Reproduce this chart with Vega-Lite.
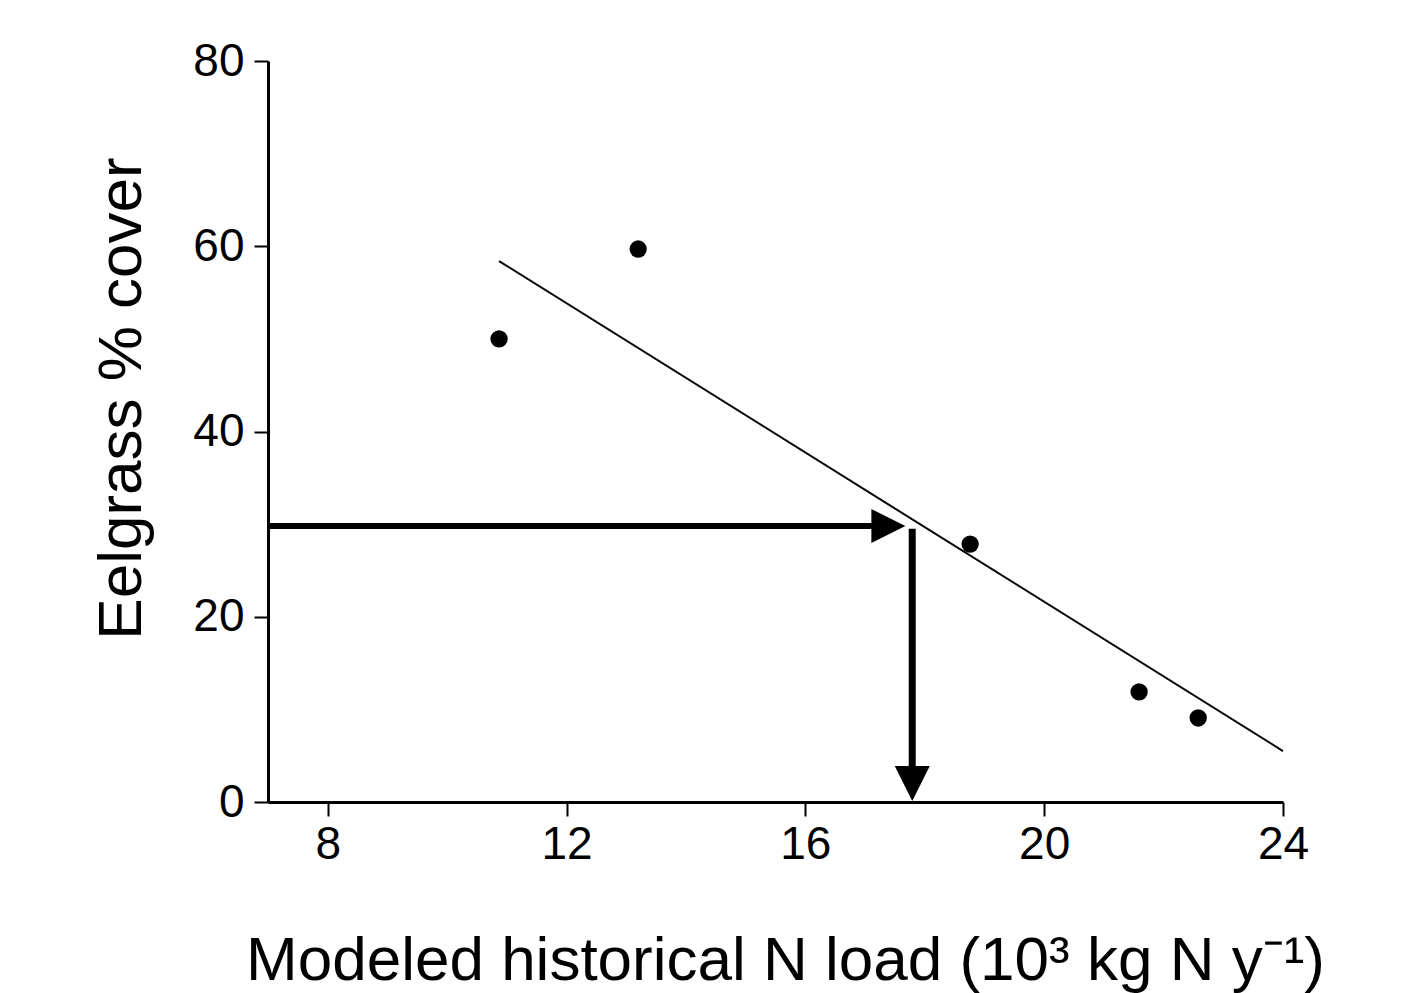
{
  "$schema": "https://vega.github.io/schema/vega-lite/v6.json",
  "autosize": "none",
  "width": 1015,
  "height": 741,
  "padding": {"left": 268, "top": 61, "right": 128, "bottom": 191},
  "background": "white",
  "config": {
    "view": {"stroke": null},
    "font": "Liberation Sans",
    "axis": {
      "grid": false,
      "domainColor": "black",
      "domainWidth": 3,
      "tickColor": "black",
      "tickWidth": 2,
      "tickSize": 14,
      "labelFont": "Liberation Sans",
      "labelFontSize": 46,
      "labelColor": "black",
      "labelFlush": false,
      "labelOverlap": false,
      "titleFont": "Liberation Sans",
      "titleFontSize": 62,
      "titleFontWeight": "normal",
      "titleColor": "black"
    }
  },
  "datasets": {
    "pts": [
      {"load": 10.87, "cover": 50.0},
      {"load": 13.2, "cover": 59.7},
      {"load": 18.76, "cover": 27.85},
      {"load": 21.59, "cover": 11.88},
      {"load": 22.58, "cover": 9.07}
    ],
    "fit": [
      {"load": 10.87, "cover": 58.4},
      {"load": 24.0, "cover": 5.5}
    ],
    "hshaft": [{"x1": 7.0, "x2": 17.4, "y": 29.8}],
    "vshaft": [{"x": 17.79, "y1": 29.5, "y2": 2.0}],
    "hhead": [{"x": 17.39, "y": 29.8}],
    "vhead": [{"x": 17.79, "y": 2.0}]
  },
  "layer": [
    {
      "data": {"name": "hshaft"},
      "mark": {"type": "rule", "color": "black", "strokeWidth": 6},
      "encoding": {
        "x": {"field": "x1", "type": "quantitative", "scale": {"domain": [7, 24], "nice": false, "zero": false},
          "axis": {"values": [8, 12, 16, 20, 24], "format": "d", "labelPadding": 6,
            "title": "Modeled historical N load (10³ kg N  y⁻¹)",
            "titleX": 517, "titleY": 177, "titleBaseline": "alphabetic", "titleAlign": "center"}},
        "x2": {"field": "x2"},
        "y": {"field": "y", "type": "quantitative", "scale": {"domain": [0, 80], "nice": false, "zero": true},
          "axis": {"values": [0, 20, 40, 60, 80], "format": "d", "labelPadding": 10,
            "title": "Eelgrass % cover",
            "titleX": -128, "titleY": 337, "titleBaseline": "alphabetic", "titleAlign": "center", "titleAngle": -90}}
      }
    },
    {
      "data": {"name": "vshaft"},
      "mark": {"type": "rule", "color": "black", "strokeWidth": 7},
      "encoding": {
        "x": {"field": "x", "type": "quantitative"},
        "y": {"field": "y1", "type": "quantitative"},
        "y2": {"field": "y2"}
      }
    },
    {
      "data": {"name": "hhead"},
      "mark": {"type": "point", "shape": "M-1,-1L1,0L-1,1Z", "filled": true, "color": "black", "opacity": 1, "size": 1156},
      "encoding": {
        "x": {"field": "x", "type": "quantitative"},
        "y": {"field": "y", "type": "quantitative"}
      }
    },
    {
      "data": {"name": "vhead"},
      "mark": {"type": "point", "shape": "M-1,-1L0,1L1,-1Z", "filled": true, "color": "black", "opacity": 1, "size": 1225},
      "encoding": {
        "x": {"field": "x", "type": "quantitative"},
        "y": {"field": "y", "type": "quantitative"}
      }
    },
    {
      "data": {"name": "fit"},
      "mark": {"type": "line", "color": "black", "strokeWidth": 2},
      "encoding": {
        "x": {"field": "load", "type": "quantitative"},
        "y": {"field": "cover", "type": "quantitative"}
      }
    },
    {
      "data": {"name": "pts"},
      "mark": {"type": "circle", "color": "black", "opacity": 1, "size": 300},
      "encoding": {
        "x": {"field": "load", "type": "quantitative"},
        "y": {"field": "cover", "type": "quantitative"}
      }
    }
  ]
}
